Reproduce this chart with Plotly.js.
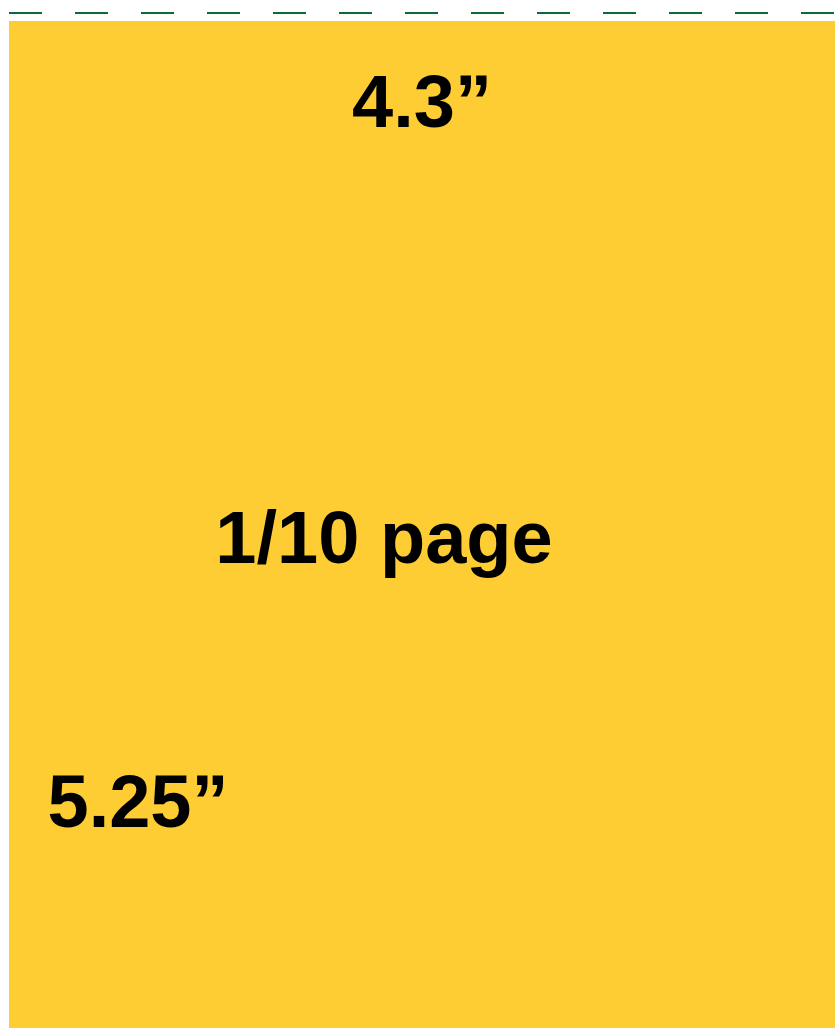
<!DOCTYPE html>
<html>
<head>
<meta charset="utf-8">
<script src="https://cdn.plot.ly/plotly-3.0.1.min.js"></script>
<style>html,body{margin:0;padding:0;background:#fff;}#chart{width:835px;height:1028px;}</style>
</head>
<body>
<div id="chart"></div>
<script>
// Page geometry in pixel units of the canvas
const panelX = [9, 835, 835, 9, 9];
const panelY = [21, 21, 1028, 1028, 21];
const cutLineX = [9, 835];
const cutLineY = [13, 13];
const labels = ["4.3\u201D", "1/10 page", "5.25\u201D"];
const labelX = [422, 384, 138];
const labelY = [108, 544, 808];

const traces = [
  {x: panelX, y: panelY, mode: 'lines', fill: 'toself', fillcolor: '#FECD34',
   line: {width: 0, color: '#FECD34'}, hoverinfo: 'skip', showlegend: false},
  {x: cutLineX, y: cutLineY, mode: 'lines',
   line: {color: '#0B6B37', width: 2, dash: '33px,33px'}, hoverinfo: 'skip', showlegend: false},
  {x: labelX, y: labelY, mode: 'text', text: labels, textposition: 'middle center',
   textfont: {family: 'Liberation Sans, Arial, sans-serif', size: 74, color: '#000', weight: 'bold'},
   hoverinfo: 'skip', showlegend: false}
];

const layout = {
  width: 835, height: 1028,
  margin: {l: 0, r: 0, t: 0, b: 0, pad: 0},
  paper_bgcolor: '#ffffff', plot_bgcolor: '#ffffff',
  xaxis: {range: [0, 835], visible: false, fixedrange: true},
  yaxis: {range: [1028, 0], visible: false, fixedrange: true},
  showlegend: false
};
Plotly.newPlot('chart', traces, layout, {staticPlot: true, displayModeBar: false});
</script>
</body>
</html>
